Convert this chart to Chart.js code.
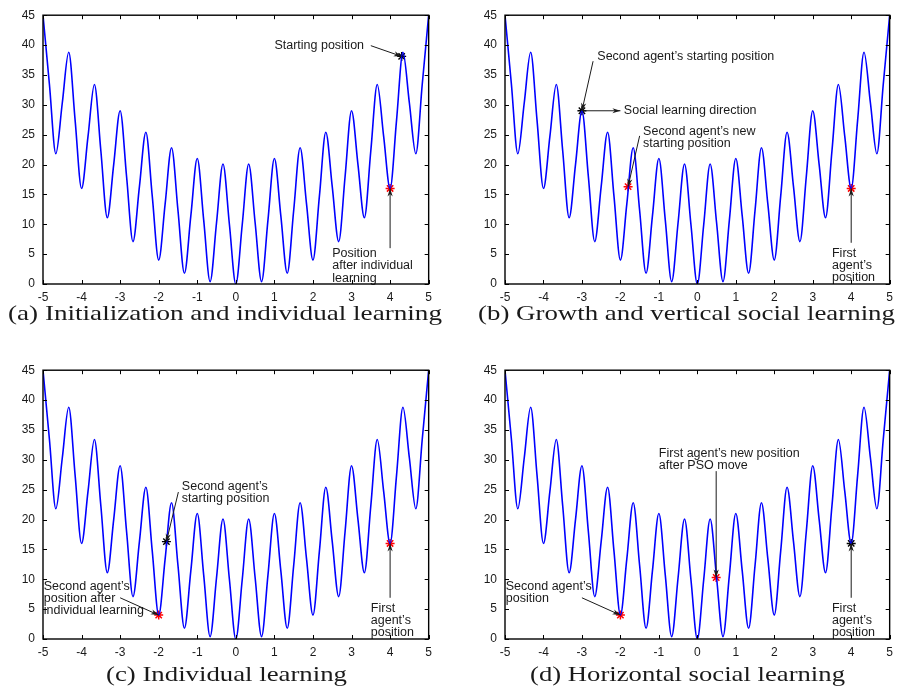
<!DOCTYPE html>
<html>
<head>
<meta charset="utf-8">
<script src="https://cdn.jsdelivr.net/npm/chart.js@4.4.0/dist/chart.umd.min.js"></script>
<style>
  body { margin: 0; background: #fff; width: 898px; height: 692px; position: relative; overflow: hidden; }
  canvas { position: absolute; }
  .cap { position: absolute; white-space: nowrap; transform-origin: 0 0;
         font-family: "Liberation Serif", "Times New Roman", serif; font-size: 22px; line-height: 20px; color: #1a1a1a; }
</style>
</head>
<body>
<canvas id="ca"></canvas>
<canvas id="cb"></canvas>
<canvas id="cc"></canvas>
<canvas id="cd"></canvas>
<div class="cap" id="tA">(a) Initialization and individual learning</div>
<div class="cap" id="tB">(b) Growth and vertical social learning</div>
<div class="cap" id="tC">(c) Individual learning</div>
<div class="cap" id="tD">(d) Horizontal social learning</div>
<script>
// curve: extrema every 1/3, mid-crossings in between
const curveX = [
  -5, -4.833, -4.667, -4.5, -4.333, -4.167, -4, -3.833, -3.667, -3.5,
  -3.333, -3.167, -3, -2.833, -2.667, -2.5, -2.333, -2.167, -2, -1.833,
  -1.667, -1.5, -1.333, -1.167, -1, -0.833, -0.667, -0.5, -0.333, -0.167,
  0,
  0.167, 0.333, 0.5, 0.667, 0.833, 1, 1.167, 1.333, 1.5, 1.667,
  1.833, 2, 2.167, 2.333, 2.5, 2.667, 2.833, 3, 3.167, 3.333,
  3.5, 3.667, 3.833, 4, 4.167, 4.333, 4.5, 4.667, 4.833, 5
];
const curveY = [
  45, 33.4, 21.8, 30.3, 38.8, 27.4, 16, 24.7, 33.4, 22.3,
  11.1, 20.0, 29, 18.0, 7.1, 16.3, 25.4, 14.7, 4, 13.4,
  22.8, 12.3, 1.8, 11.4, 21, 10.7, 0.4, 10.3, 20.1, 10.0,
  0,
  10.0, 20.1, 10.3, 0.4, 10.7, 21, 11.4, 1.8, 12.3, 22.8,
  13.4, 4, 14.7, 25.4, 16.3, 7.1, 18.0, 29, 20.0, 11.1,
  22.3, 33.4, 24.7, 16, 27.4, 38.8, 30.3, 21.8, 33.4, 45
];

// markers per panel [x, y]
const redA = [[4, 16]];
const blackA = [[4.3, 38.1]];
const redB = [[-1.8, 16.3], [4, 16]];
const blackB = [[-3, 29]];
const redC = [[-2, 4], [4, 16]];
const blackC = [[-1.8, 16.3]];
const redD = [[-2, 4], [0.49, 10.3]];
const blackD = [[4, 16]];

// arrows [x1, y1, x2(head), y2(head)]
const arrowsA = [[3.5, 39.9, 4.3, 38.1], [4, 6.0, 4, 16]];
const arrowsB = [[-2.71, 37.3, -3, 29], [-3, 29, -2.0, 29], [-1.5, 24.8, -1.8, 16.3], [4, 6.9, 4, 16]];
const arrowsC = [[-1.49, 24.6, -1.8, 16.3], [-3.0, 6.9, -2.0, 4.0], [4, 6.9, 4, 16]];
const arrowsD = [[-3.0, 6.9, -2.0, 4.0], [0.49, 28.1, 0.49, 10.3], [4, 6.9, 4, 16]];

// labels [x, y of first line, ...lines]
const notesA = [[1.0, 39.9, 'Starting position'], [2.5, 5.05, 'Position', 'after individual', 'learning']];
const notesB = [[-2.6, 38.0, 'Second agent\u2019s starting position'], [-1.91, 29, 'Social learning direction'],
                [-1.41, 25.5, 'Second agent\u2019s new', 'starting position'], [3.5, 5.1, 'First', 'agent\u2019s', 'position']];
const notesC = [[-1.4, 25.5, 'Second agent\u2019s', 'starting position'],
                [-4.98, 8.8, 'Second agent\u2019s', 'position after', 'individual learning'],
                [3.5, 5.1, 'First', 'agent\u2019s', 'position']];
const notesD = [[-4.98, 8.8, 'Second agent\u2019s', 'position'], [-1.0, 31.0, 'First agent\u2019s new position', 'after PSO move'],
                [3.5, 5.1, 'First', 'agent\u2019s', 'position']];

const INK = '#1a1a1a';
const SANS = '"Liberation Sans", Arial, sans-serif';

const decor = {
  id: 'decor',
  afterDatasetsDraw(chart) {
    const { ctx, chartArea: a, scales: { x, y } } = chart;
    const o = chart.options.plugins.decor;
    ctx.save();
    // arrows
    ctx.strokeStyle = INK; ctx.fillStyle = INK; ctx.lineWidth = 1;
    o.arrows.forEach(([x1, y1, x2, y2]) => {
      const px1 = x.getPixelForValue(x1), py1 = y.getPixelForValue(y1);
      const px2 = x.getPixelForValue(x2), py2 = y.getPixelForValue(y2);
      const ang = Math.atan2(py2 - py1, px2 - px1);
      ctx.beginPath(); ctx.moveTo(px1, py1); ctx.lineTo(px2, py2); ctx.stroke();
      const L = 8, W = 2.6;
      ctx.beginPath();
      ctx.moveTo(px2, py2);
      ctx.lineTo(px2 - L * Math.cos(ang) + W * Math.sin(ang), py2 - L * Math.sin(ang) - W * Math.cos(ang));
      ctx.lineTo(px2 - L * 0.7 * Math.cos(ang), py2 - L * 0.7 * Math.sin(ang));
      ctx.lineTo(px2 - L * Math.cos(ang) - W * Math.sin(ang), py2 - L * Math.sin(ang) + W * Math.cos(ang));
      ctx.closePath(); ctx.fill();
    });
    // labels
    ctx.font = '12.5px ' + SANS;
    ctx.textBaseline = 'middle'; ctx.textAlign = 'left';
    o.notes.forEach(n => {
      const px = x.getPixelForValue(n[0]), py = y.getPixelForValue(n[1]);
      n.slice(2).forEach((s, i) => ctx.fillText(s, px, py + i * 12.2));
    });
    // frame + inward ticks
    ctx.strokeStyle = '#000'; ctx.lineWidth = 1.4;
    ctx.strokeRect(a.left, a.top, a.right - a.left, a.bottom - a.top);
    ctx.lineWidth = 1;
    ctx.beginPath();
    x.ticks.forEach(t => {
      const p = Math.round(x.getPixelForValue(t.value)) + 0.5;
      ctx.moveTo(p, a.bottom); ctx.lineTo(p, a.bottom - 4);
      ctx.moveTo(p, a.top); ctx.lineTo(p, a.top + 4);
    });
    y.ticks.forEach(t => {
      const p = Math.round(y.getPixelForValue(t.value)) + 0.5;
      ctx.moveTo(a.left, p); ctx.lineTo(a.left + 4, p);
      ctx.moveTo(a.right, p); ctx.lineTo(a.right - 4, p);
    });
    ctx.stroke();
    ctx.restore();
  }
};

function pts(list) { return list.map(([px, py]) => ({ x: px, y: py })); }

function makePanel(id, f, reds, blacks, arrows, notes) {
  const cv = document.getElementById(id);
  const yw = 40, xh = 24, pt = 8, pr = 7;
  cv.width = (f.r - f.l) + yw + pr;
  cv.height = (f.b - f.t) + pt + xh;
  cv.style.left = (f.l - yw) + 'px';
  cv.style.top = (f.t - pt) + 'px';
  const curve = curveX.map((v, i) => ({ x: v, y: curveY[i] }));
  new Chart(cv, {
    type: 'scatter',
    data: {
      datasets: [
        { data: curve, showLine: true, borderColor: '#0000ff', borderWidth: 1.6, pointRadius: 0,
          cubicInterpolationMode: 'monotone', fill: false },
        { data: pts(reds), pointStyle: 'star', pointRadius: 4.5, borderColor: '#ff0000', borderWidth: 1.5,
          backgroundColor: '#ff0000' },
        { data: pts(blacks), pointStyle: 'star', pointRadius: 4.5, borderColor: '#000', borderWidth: 1.4,
          backgroundColor: '#000' }
      ]
    },
    options: {
      responsive: false, animation: false, devicePixelRatio: 1,
      layout: { padding: { top: pt, right: pr, left: 0, bottom: 0 } },
      plugins: { legend: { display: false }, tooltip: { enabled: false }, decor: { arrows, notes } },
      scales: {
        x: { type: 'linear', min: -5, max: 5, grid: { display: false, drawTicks: false }, border: { display: false },
             ticks: { stepSize: 1, padding: 6, color: INK, font: { family: SANS, size: 12 } },
             afterFit: s => { s.height = xh; } },
        y: { min: 0, max: 45, grid: { display: false, drawTicks: false }, border: { display: false },
             ticks: { stepSize: 5, padding: 8, color: INK, font: { family: SANS, size: 12 } },
             afterFit: s => { s.width = yw; } }
      }
    },
    plugins: [decor]
  });
}

makePanel('ca', { l: 43, t: 8, r: 431, b: 284 }, redA, blackA, arrowsA, notesA);
makePanel('cb', { l: 505, t: 8, r: 892, b: 284 }, redB, blackB, arrowsB, notesB);
makePanel('cc', { l: 43, t: 363, r: 431, b: 639 }, redC, blackC, arrowsC, notesC);
makePanel('cd', { l: 505, t: 363, r: 892, b: 639 }, redD, blackD, arrowsD, notesD);

// caption: left edge, right edge, baseline as seen in the figure
function place(id, x0, x1, base) {
  const el = document.getElementById(id);
  const w = el.getBoundingClientRect().width;
  el.style.left = x0 + 'px';
  el.style.top = (base - 17.4) + 'px';
  el.style.transform = 'scaleX(' + ((x1 - x0) / w).toFixed(4) + ')';
}
place('tA', 8, 442, 320.5);
place('tB', 478, 895, 320.5);
place('tC', 106, 347, 681);
place('tD', 530, 845, 681);
</script>
</body>
</html>
